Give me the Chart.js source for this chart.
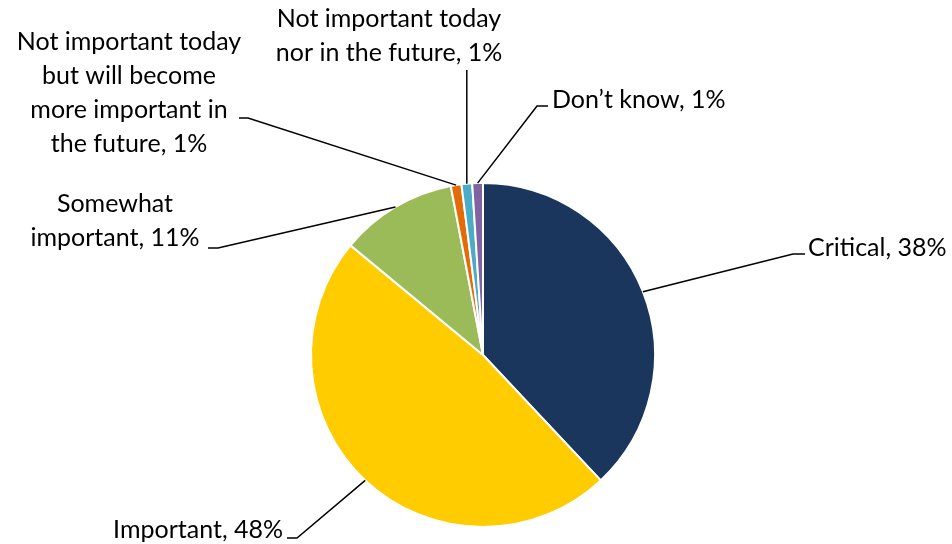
<!DOCTYPE html>
<html>
<head>
<meta charset="utf-8">
<script src="https://cdn.jsdelivr.net/npm/chart.js@4/dist/chart.umd.min.js"></script>
<style>
  html, body { margin: 0; padding: 0; background: #fff; }
  #wrap { width: 952px; height: 544px; position: relative; }
</style>
</head>
<body>
<div id="wrap"><canvas id="myChart" width="952" height="544"></canvas></div>
<script>
const categories = [
    'Critical',
    'Important',
    'Somewhat important',
    'Not important today but will become more important in the future',
    'Not important today nor in the future',
    'Don\u2019t know'
]
const shares = [38, 48, 11, 1, 1, 1]
const labelLines = [
    ['Critical, 38%'],
    ['Important, 48%'],
    ['Somewhat', 'important, 11%'],
    ['Not important today', 'but will become', 'more important in', 'the future, 1%'],
    ['Not important today', 'nor in the future, 1%'],
    ['Don\u2019t know, 1%']
]
const colors = ['#1B365D', '#FFCC00', '#9BBB59', '#E36C09', '#4BACC6', '#8064A2']

// where each label goes: elbow of leader, end of leader, text anchor + align
const labelLayout = [
    { elbow: [793, 254], end: [805, 254], tx: 808, ty: 248, align: 'left' },
    { elbow: [297, 538], end: [287, 538], tx: 283, ty: 530, align: 'right' },
    { elbow: [218, 248], end: [208, 248], tx: 115, ty: 204, align: 'center' },
    { elbow: [248, 118], end: [239, 118], tx: 129, ty: 42, align: 'center' },
    { elbow: null, end: [null, 70], tx: 389, ty: 19, align: 'center' },
    { elbow: [537, 106], end: [548, 106], tx: 552, ty: 100, align: 'left' }
]
const lineGap = 34

const leaderLabels = {
    id: 'leaderLabels',
    afterDraw(chart) {
        const ctx = chart.ctx
        const arcs = chart.getDatasetMeta(0).data
        ctx.save()
        ctx.strokeStyle = '#000'
        ctx.lineWidth = 1.5
        ctx.fillStyle = '#000'
        ctx.font = '25px Lato, "Open Sans", sans-serif'
        ctx.textBaseline = 'middle'
        arcs.forEach((arc, i) => {
            const p = arc.getProps(['x', 'y', 'startAngle', 'endAngle', 'outerRadius'], true)
            const mid = (p.startAngle + p.endAngle) / 2
            const sx = p.x + Math.cos(mid) * p.outerRadius
            const sy = p.y + Math.sin(mid) * p.outerRadius
            const L = labelLayout[i]
            ctx.beginPath()
            ctx.moveTo(sx, sy)
            if (L.elbow) {
                ctx.lineTo(L.elbow[0], L.elbow[1])
                ctx.lineTo(L.end[0], L.end[1])
            } else {
                ctx.lineTo(sx, L.end[1])
            }
            ctx.stroke()
            ctx.textAlign = L.align
            labelLines[i].forEach((t, k) => {
                ctx.fillText(t, L.tx, L.ty + k * lineGap)
            })
        })
        ctx.restore()
    }
}

const ctx = document.getElementById('myChart').getContext('2d')
const myChart = new Chart(ctx, {
    type: 'pie',
    data: {
        labels: categories,
        datasets: [{
            data: shares,
            backgroundColor: colors,
            borderColor: '#ffffff',
            borderWidth: 2
        }]
    },
    options: {
        responsive: false,
        animation: false,
        layout: {
            padding: { top: 182, bottom: 16, left: 310, right: 296 }
        },
        plugins: {
            legend: { display: false },
            tooltip: { enabled: false }
        }
    },
    plugins: [leaderLabels]
})
</script>
</body>
</html>
